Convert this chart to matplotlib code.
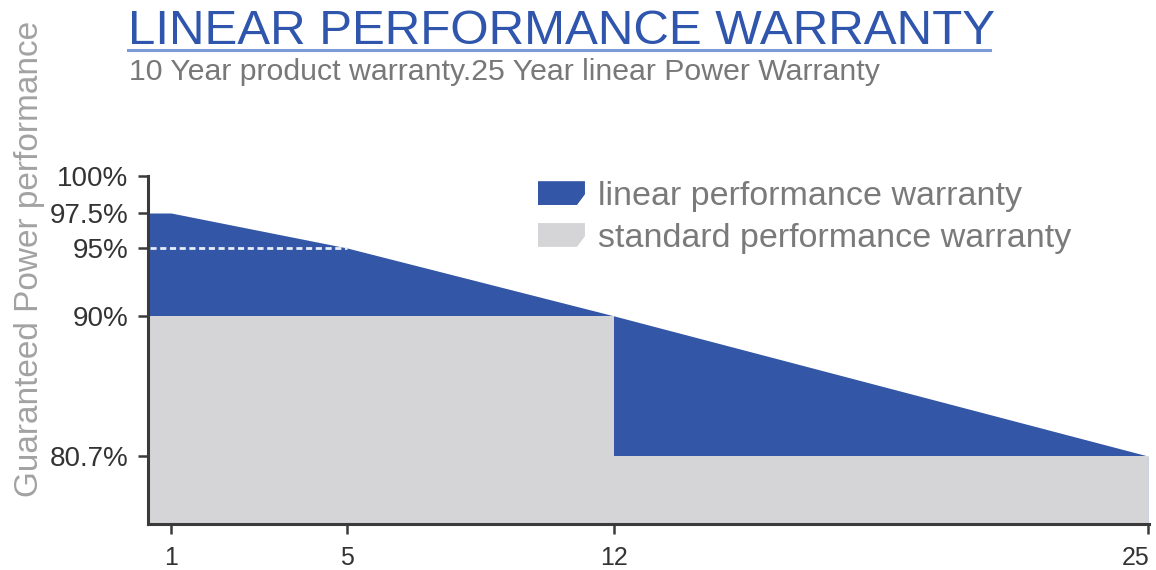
# -*- coding: utf-8 -*-
'''
Linear performance warranty vs standard (step) warranty
'''
import numpy as np
import matplotlib
matplotlib.use('Agg')
import matplotlib.pyplot as plt
from matplotlib.lines import Line2D
from matplotlib.patches import Polygon, Patch
from matplotlib.legend_handler import HandlerPatch
from matplotlib.transforms import ScaledTranslation

plt.rcParams['font.family'] = ['Liberation Sans', 'DejaVu Sans']

# data
years = [0, 1, 5, 12, 25]
linear_perf = [97.5, 97.5, 95.0, 90.0, 80.7]
std_years = [0, 12, 25]
std_perf = [90.0, 80.7, 80.7]
x_ticks = [1, 5, 12, 25]
x_tick_labels = ['1', '5', '12', '25']
y_ticks = [100, 97.5, 95, 90, 80.7]
y_tick_labels = ['100%', '97.5%', '95%', '90%', '80.7%']
dash_level = 95
dash_end = 5

BLUE = '#3356a6'
GRAY = '#d5d5d7'
AXIS = '#3a3a3a'

# the picture's axes are not linear, so map them piecewise
x_knots = [0, 1, 5, 12, 25, 26]
x_pos = [127, 171, 347, 614, 1147, 1188]
y_knots = [76, 80.7, 90, 95, 97.5, 100]
y_pos = [-524, -456, -316, -248, -213, -176]

def fwd_x(v):
  return np.interp(v, x_knots, x_pos)

def inv_x(v):
  return np.interp(v, x_pos, x_knots)

def fwd_y(v):
  return np.interp(v, y_knots, y_pos)

def inv_y(v):
  return np.interp(v, y_pos, y_knots)

'''
legend swatch with chamfered bottom-right corner
'''
class ChamferHandler(HandlerPatch):
  def create_artists(self, legend, orig_handle, xdescent, ydescent, width, height, fontsize, trans):
    x0, y0 = -xdescent, -ydescent
    pts = [(x0, y0), (x0 + width * 0.83, y0), (x0 + width, y0 + height * 0.45),
           (x0 + width, y0 + height), (x0, y0 + height)]
    p = Polygon(pts, closed=True, facecolor=orig_handle.get_facecolor(), edgecolor='none', transform=trans)
    return [p]

W, H = 1156, 570
fig = plt.figure(figsize=(W / 100, H / 100), dpi=100)
ax = fig.add_axes([148 / W, 1 - 524 / H, (1149 - 148) / W, (524 - 176) / H])
ax.set_xscale('function', functions=(fwd_x, inv_x))
ax.set_yscale('function', functions=(fwd_y, inv_y))
x_left = inv_x(148)
ax.set_xlim(x_left, 25.03)
ax.set_ylim(76, 100)

lin_x = [x_left] + years[1:]
lin_y = [linear_perf[0]] + linear_perf[1:]
ax.fill_between(lin_x, lin_y, 76, color=BLUE, linewidth=0)
std_x = [x_left] + std_years[1:]
ax.fill_between(std_x, std_perf, 76, step='post', color=GRAY, linewidth=0)
ax.hlines(dash_level, x_left + 0.05, dash_end, colors='#e8edf8', linestyles=(0, (2.2, 1.3)), linewidth=2)

for s in ['top', 'right']:
  ax.spines[s].set_visible(False)
for s in ['left', 'bottom']:
  ax.spines[s].set_color(AXIS)
  ax.spines[s].set_linewidth(2.2)

ax.set_xticks(x_ticks)
ax.set_xticklabels(x_tick_labels)
ax.set_yticks(y_ticks)
ax.set_yticklabels(y_tick_labels)
ax.minorticks_off()
ax.tick_params(axis='both', direction='out', length=7, width=1.8, color=AXIS, labelcolor='#333333', labelsize=20)
ax.tick_params(axis='y', pad=7)
ax.tick_params(axis='x', pad=9, labelsize=18)
# keep the last year label inside the picture
last = ax.get_xticklabels()[-1]
last.set_transform(last.get_transform() + ScaledTranslation(-9 / 72, 0, fig.dpi_scale_trans))

handles = [Patch(facecolor=BLUE), Patch(facecolor=GRAY)]
labels = ['linear performance warranty', 'standard performance warranty']
fig.legend(handles, labels, loc='upper left', bbox_to_anchor=(538 / W, 1 - 181 / H),
           frameon=False, borderpad=0, borderaxespad=0, fontsize=24.5,
           handlelength=1.38, handleheight=0.7, handletextpad=0.38, labelspacing=0.32,
           labelcolor='#7a7a7a', handler_map={Patch: ChamferHandler()})

# heading
fig.text(128 / W, 1 - 44 / H, 'LINEAR PERFORMANCE WARRANTY', fontsize=35.5, color='#2f55ad', va='baseline', ha='left')
fig.add_artist(Line2D([128 / W, 990 / W], [1 - 50 / H, 1 - 50 / H], color='#7d9bd6', linewidth=2.2))
fig.text(129 / W, 1 - 80 / H, '10 Year product warranty.25 Year linear Power Warranty', fontsize=21.8,
         color='#787878', va='baseline', ha='left')
fig.text(30 / W, 1 - 259 / H, 'Guaranteed Power performance', rotation=90, fontsize=24,
         color='#a2a2a2', va='center', ha='center')

fig.savefig('out.png', dpi=100)
